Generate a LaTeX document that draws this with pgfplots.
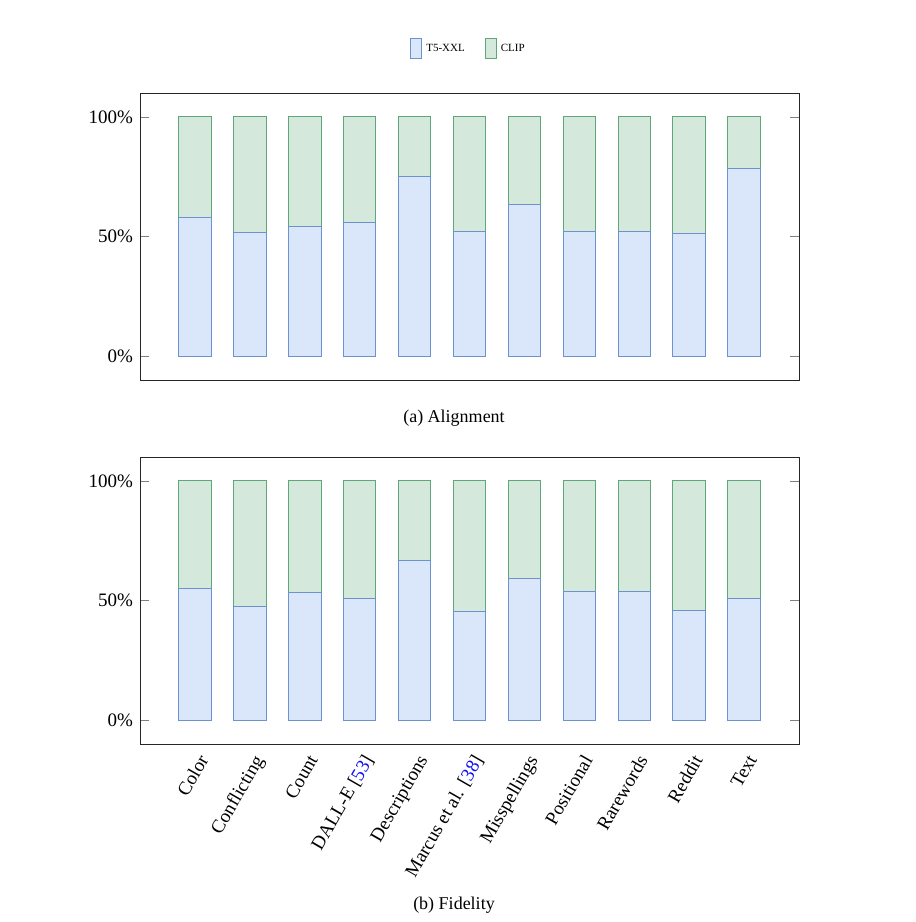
\documentclass[border=0pt]{standalone}
\usepackage{pgfplots}
\pgfplotsset{compat=1.18}
\usepackage{pgfplotstable}
\usepackage{xcolor}
\usepackage{fontspec}
\setmainfont{Liberation Serif}
\definecolor{tfill}{HTML}{DAE6FA}
\definecolor{tdraw}{HTML}{6C92D0}
\definecolor{cfill}{HTML}{D5E8DC}
\definecolor{cdraw}{HTML}{5FA67A}
\definecolor{citeblue}{HTML}{1010F0}

\pgfplotstableread{
x t5 clip
0 57.8 42.2
1 51.7 48.3
2 54.3 45.7
3 55.8 44.2
4 74.9 25.1
5 51.9 48.1
6 63.2 36.8
7 52.2 47.8
8 51.9 48.1
9 51.25 48.75
10 78.5 21.5
}\alignment

\pgfplotstableread{
x t5 clip
0 55.1 44.9
1 47.6 52.4
2 53.2 46.8
3 50.8 49.2
4 66.9 33.1
5 45.4 54.6
6 59.0 41.0
7 53.9 46.1
8 53.6 46.4
9 45.7 54.3
10 50.7 49.3
}\fidelity

\pgfplotsset{
  mybars/.style={
    scale only axis,
    width=329.5pt,
    height=143.5pt,
    ybar stacked,
    bar width=16.25pt,
    xmin=-1, xmax=11,
    ymin=-10, ymax=110,
    ytick={0,50,100},
    yticklabels={0\%,50\%,100\%},
    xtick={0,...,10},
    major x tick style={draw=none},
    major y tick style={gray, line width=0.4pt},
    yticklabel style={font=\fontsize{9.5}{11}\selectfont},
    xticklabel style={font=\fontsize{9.5}{11}\selectfont, rotate=60, anchor=north east},
    axis line style={black!85},
    tick align=inside,
  },
}

\begin{document}
\begin{tikzpicture}
\path[use as bounding box] (-70pt,-89pt) rectangle (388pt,372pt);

\begin{axis}[mybars, name=top, at={(0pt,182pt)}, anchor=south west,
  xticklabels={},
  legend style={draw=none, fill=none, at={(0.5,1)}, yshift=22pt, anchor=center,
    legend columns=2, font=\fontsize{5.5}{6.5}\selectfont,
    /tikz/every even column/.append style={column sep=8pt}},
  legend image code/.code={\draw[#1] (0pt,-5pt) rectangle (5.5pt,5pt);},
]
\addplot[draw=tdraw, fill=tfill, line width=0.5pt] table[x=x, y=t5] {\alignment};
\addplot[draw=cdraw, fill=cfill, line width=0.5pt] table[x=x, y=clip] {\alignment};
\legend{T5-XXL, CLIP}
\end{axis}

\begin{axis}[mybars, name=bot, at={(0pt,0pt)}, anchor=south west,
  xticklabels={Color, Conflicting, Count, {DALL-E [\textcolor{citeblue}{53}]}, Descriptions,
    {Marcus et al. [\textcolor{citeblue}{38}]}, Misspellings, Positional, Rarewords, Reddit, Text},
]
\addplot[draw=tdraw, fill=tfill, line width=0.5pt] table[x=x, y=t5] {\fidelity};
\addplot[draw=cdraw, fill=cfill, line width=0.5pt] table[x=x, y=clip] {\fidelity};
\end{axis}

\node[font=\fontsize{9}{11}\selectfont] at (157pt,163pt) {(a) Alignment};
\node[font=\fontsize{9}{11}\selectfont] at (157pt,-80.5pt) {(b) Fidelity};
\end{tikzpicture}
\end{document}
